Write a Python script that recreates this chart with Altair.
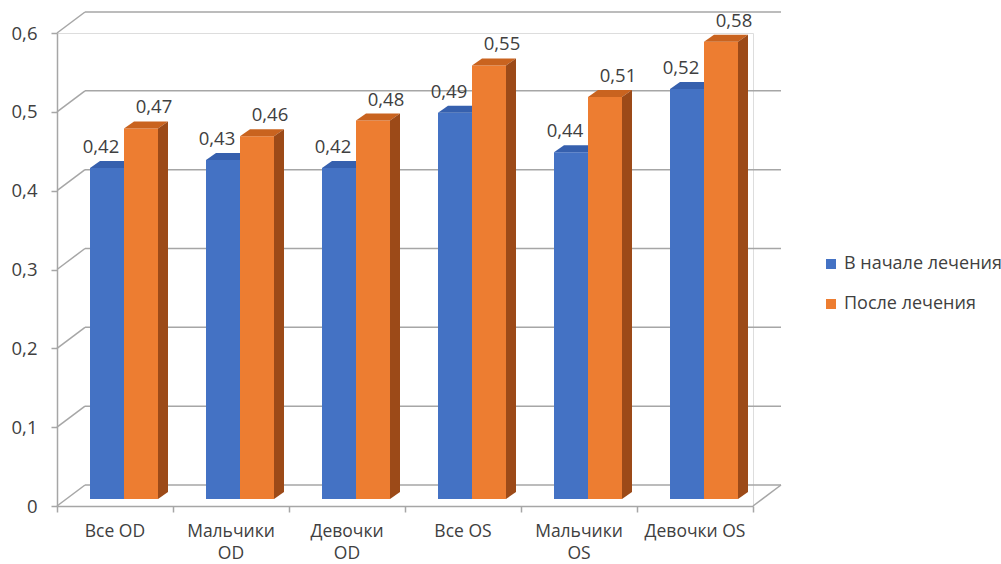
import altair as alt
import pandas as pd

# Mean values per group, before and after treatment
categories = ["Все OD", "Мальчики OD", "Девочки OD", "Все OS", "Мальчики OS", "Девочки OS"]
tick_text = ["Все OD", "Мальчики\nOD", "Девочки\nOD", "Все OS", "Мальчики\nOS", "Девочки OS"]
series = ["В начале лечения", "После лечения"]
before = [0.42, 0.43, 0.42, 0.49, 0.44, 0.52]
after = [0.47, 0.46, 0.48, 0.55, 0.51, 0.58]
y_levels = [0.0, 0.1, 0.2, 0.3, 0.4, 0.5, 0.6]

# Plot geometry
W, H = 696, 473
PX_X = W / len(categories)        # pixels per category unit
PX_Y = H / 0.6                    # pixels per value unit
BAR_W = 34 / PX_X                 # bar width in category units
DX = 10 / PX_X                    # bar depth (x) in data units
DY = 7 / PX_Y                     # bar depth (y) in data units
WALL_DX, WALL_DY = 28, -21        # back wall offset, px
BAR_DX, BAR_DY = 9, -7            # bar row offset, px
SHIFT_X = BAR_DX / PX_X           # same bar row offset in data units
SHIFT_Y = -BAR_DY / PX_Y

FONT = "Open Sans"
TXT = "#404040"
GRID = "#a6a6a6"
colors = {"front": ["#4472C4", "#ED7D31"],
          "top": ["#3660AE", "#C9631F"],
          "side": ["#2F5597", "#9C4A18"]}

rows, tops, sides = [], [], []
for i, cat in enumerate(categories):
    c = i + 0.5
    for k, (s, vals) in enumerate(zip(series, [before, after])):
        v = vals[i]
        xl = c - BAR_W if k == 0 else c
        xr = xl + BAR_W
        bid = f"b{i}{k}"
        rows.append({"cat": cat, "series": s, "k": k, "xl": xl, "xr": xr,
                     "xm": (xl + xr) / 2, "value": v, "base": 0.0})
        # faces in data units, already moved to the bar row
        fx0, fx1 = xl + SHIFT_X, xr + SHIFT_X
        fv, f0 = v + SHIFT_Y, SHIFT_Y
        # top face, described as vertical slices (lower/upper edge at each x)
        for xx, lo, hi in [(fx0, fv, fv), (fx0 + DX, fv, fv + DY),
                           (fx1, fv, fv + DY), (fx1 + DX, fv + DY, fv + DY)]:
            tops.append({"bid": bid, "k": k, "fx": xx, "lo": lo, "hi": hi})
        # right side face
        for xx, lo, hi in [(fx1, f0, fv), (fx1 + DX, f0 + DY, fv + DY)]:
            sides.append({"bid": bid, "k": k, "fx": xx, "lo": lo, "hi": hi})

bars = pd.DataFrame(rows)
top_df = pd.DataFrame(tops)
side_df = pd.DataFrame(sides)
grid_df = pd.DataFrame({"lvl": y_levels, "x0": 0.0, "x1": float(len(categories))})
cat_df = pd.DataFrame({"pos": [i + 0.5 for i in range(len(categories))], "text": tick_text})
floor_df = pd.DataFrame({"x": [float(len(categories))], "y": [0.0]})

xs = alt.Scale(domain=[0, len(categories)], nice=False, zero=False)
ys = alt.Scale(domain=[0, 0.6], nice=False)
x_axis = alt.Axis(values=list(range(len(categories) + 1)), labels=False, title=None,
                  grid=False, tickSize=6, tickColor=GRID, tickWidth=1.5,
                  domainColor=GRID, domainWidth=1.5)
y_axis = alt.Axis(values=y_levels, title=None, grid=False, tickSize=6, tickColor=GRID,
                  tickWidth=1.5, domainColor=GRID, domainWidth=1.5,
                  labelExpr="datum.value == 0 ? '0' : replace(format(datum.value, '.1f'), '.', ',')",
                  labelFont=FONT, labelFontSize=18.5, labelColor=TXT, labelPadding=14)


def X(f):
    return alt.X(f, type="quantitative", scale=xs, axis=x_axis)


def Y(f):
    return alt.Y(f, type="quantitative", scale=ys, axis=y_axis)


# back wall gridlines
grid = alt.Chart(grid_df).mark_rule(color=GRID, strokeWidth=1.5, xOffset=WALL_DX,
                                    x2Offset=WALL_DX, yOffset=WALL_DY, y2Offset=WALL_DY).encode(
    x=X("x0"), x2="x1", y=Y("lvl"), y2="lvl")
# left side wall diagonals
diag = alt.Chart(grid_df).mark_rule(color=GRID, strokeWidth=1.5, x2Offset=WALL_DX,
                                    y2Offset=WALL_DY).encode(
    x=X("x0"), x2="x0", y=Y("lvl"), y2="lvl")
# right floor edge
floor_edge = alt.Chart(floor_df).mark_rule(color=GRID, strokeWidth=1.5, x2Offset=WALL_DX,
                                           y2Offset=WALL_DY).encode(
    x=X("x"), x2="x", y=Y("y"), y2="y")


def front(k):
    return alt.Chart(bars[bars.k == k]).mark_bar(
        xOffset=BAR_DX, x2Offset=BAR_DX, yOffset=BAR_DY, y2Offset=BAR_DY,
        cornerRadius=0, strokeWidth=0).encode(
        x=X("xl"), x2="xr", y=Y("value"), y2="base",
        color=alt.Color("series:N", scale=alt.Scale(domain=series, range=colors["front"]),
                        legend=alt.Legend(title=None, orient="none", legendX=765, legendY=222,
                                          symbolType="square", symbolSize=100,
                                          symbolStrokeWidth=0, labelFont=FONT,
                                          labelFontSize=18, labelColor=TXT, labelLimit=400,
                                          rowPadding=22, labelOffset=4)))


def face(df, k, col):
    return alt.Chart(df[df.k == k]).mark_area(color=col, opacity=1).encode(
        x=X("fx"), y=Y("hi"), y2=alt.Y2("lo"), detail="bid:N")


def value_labels(k, dx):
    return alt.Chart(bars[bars.k == k]).transform_calculate(
        txt="replace(format(datum.value, '.2f'), '.', ',')"
    ).mark_text(font=FONT, fontSize=18.5, color=TXT, baseline="middle",
                dx=BAR_DX + dx, dy=BAR_DY - 21).encode(x=X("xm"), y=Y("value"), text="txt:N")


cat_labels = alt.Chart(cat_df).mark_text(
    font=FONT, fontSize=17.5, color=TXT, baseline="middle", lineBreak="\n", lineHeight=22
).encode(x=X("pos"), y=alt.value(H), yOffset=alt.value(26), text="text:N")

chart = alt.layer(
    grid, diag, floor_edge,
    front(0), face(top_df, 0, colors["top"][0]),
    front(1), face(top_df, 1, colors["top"][1]), face(side_df, 1, colors["side"][1]),
    value_labels(0, -6), value_labels(1, 13), cat_labels
).properties(
    width=W, height=H, autosize="none",
    padding={"left": 57, "top": 33, "right": 1001 - 57 - W, "bottom": 564 - 33 - H}
).configure_view(stroke=None).configure(background="white")

chart.save("out.html", embed_options={"renderer": "svg", "actions": False})
